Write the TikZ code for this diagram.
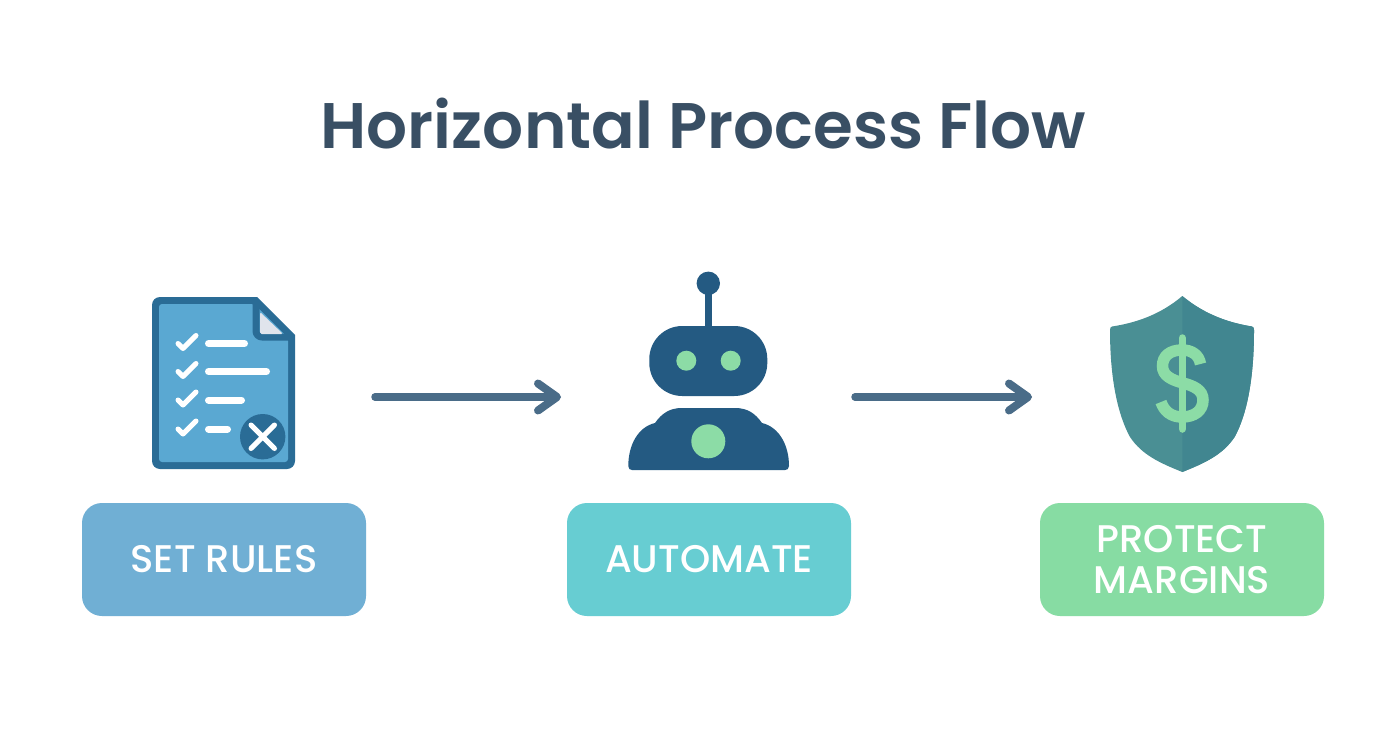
\documentclass[tikz,border=0pt]{standalone}
\usepackage{fontspec}
\setmainfont{Poppins}
\newfontfamily\semi{Poppins SemiBold}
\newfontfamily\medi{Poppins Medium}
\usetikzlibrary{arrows.meta}
\definecolor{ink}{HTML}{394F64}
\definecolor{arrowc}{HTML}{4A6C88}
\definecolor{navy}{HTML}{245A82}
\definecolor{docedge}{HTML}{2A6C96}
\definecolor{docfill}{HTML}{5AA8D2}
\definecolor{foldc}{HTML}{E0E4EC}
\definecolor{mint}{HTML}{8CDCA6}
\definecolor{shieldl}{HTML}{4A8F94}
\definecolor{shieldr}{HTML}{418690}
\definecolor{boxa}{HTML}{70AFD4}
\definecolor{boxb}{HTML}{67CDD2}
\definecolor{boxc}{HTML}{87DCA3}
\tikzset{
  x=1pt,y=-1pt,
  labelbox/.style={draw=none,rounded corners=20pt,minimum width=284pt,minimum height=113pt,inner sep=0pt,
    align=center,text=white,font=\medi\fontsize{38.5}{41}\selectfont},
  flow/.style={draw=arrowc,line width=7.5pt,line cap=round,line join=round,
    -{Straight Barb[length=19pt,width=27pt,line width=8pt,round]}},
  listline/.style={draw=white,line width=7pt,line cap=round},
  tick/.style={draw=white,line width=5pt,line cap=round,line join=round},
}
\begin{document}
\begin{tikzpicture}
\useasboundingbox[fill=white] (0,0) rectangle (1392,752);
\node[text=ink,font=\semi\fontsize{64.4}{80}\selectfont,inner sep=0pt] (title) at (703.5,124) {Horizontal Process Flow};
% document icon
\fill[docedge] (160,297) -- (257,297) -- (295,335) -- (295,461) arc[start angle=0,end angle=-90,radius=8pt]
  -- (160,469) arc[start angle=-90,end angle=-180,radius=8pt] -- (152,305) arc[start angle=180,end angle=90,radius=8pt] -- cycle;
\fill[docfill,rounded corners=3pt] (159,304) -- (254,304) -- (288,338) -- (288,462) -- (159,462) -- cycle;
\draw[draw=docedge,line width=7pt,line join=round,rounded corners=6pt] (256,300.5) -- (256,337) -- (291.5,337);
\fill[foldc,rounded corners=1.5pt] (260,312) -- (283,334) -- (260,334) -- cycle;
\foreach \yy/\xe in {343.5/248,371.5/270,400/245,429/231}{
  \draw[listline] (208.5,\yy) -- (\xe-3.5,\yy);
  \draw[tick] (178,\yy) -- ++(5,5) -- ++(13,-13);
}
\fill[docedge] (262.7,436.7) circle[radius=22.7pt];
\draw[draw=white,line width=5pt,line cap=round] (251,425) -- (274.5,448.5) (274.5,425) -- (251,448.5);
% robot icon
\draw[draw=navy,line width=7.5pt] (708.3,283) -- (708.3,330);
\fill[navy] (708.3,283.3) circle[radius=11.7pt];
\fill[navy,rounded corners=33pt] (649.3,326) rectangle (767.3,396);
\fill[mint] (686.3,360.7) circle[radius=10pt] (730.7,360.7) circle[radius=10pt];
\fill[navy] (628.3,466) .. controls (628.3,445) and (638,427) .. (655,423)
  .. controls (662,413) and (670,408) .. (682,408) -- (735,408)
  .. controls (747,408) and (755,413) .. (762,423)
  .. controls (779,427) and (789,445) .. (789,466)
  .. controls (789,469) and (787,470) .. (785,470) -- (632,470)
  .. controls (630,470) and (628.3,469) .. (628.3,466) -- cycle;
\fill[mint] (708.3,441.3) circle[radius=17pt];
% shield icon
\fill[shieldl] (1182.3,296) .. controls (1160,315) and (1135,323) .. (1112,326.5)
  .. controls (1110.5,327) and (1110,328) .. (1110,330)
  .. controls (1110,380) and (1118,415) .. (1130,437)
  .. controls (1142,455) and (1160,463) .. (1182.3,472)
  .. controls (1204.6,463) and (1222.6,455) .. (1234.6,437)
  .. controls (1246.6,415) and (1254,380) .. (1254,330)
  .. controls (1254,328) and (1253.5,327) .. (1252,326.5)
  .. controls (1230,323) and (1205,315) .. (1182.3,296) -- cycle;
\fill[shieldr] (1182.3,296) .. controls (1205,315) and (1230,323) .. (1252,326.5)
  .. controls (1253.5,327) and (1254,328) .. (1254,330)
  .. controls (1254,380) and (1246.6,415) .. (1234.6,437)
  .. controls (1222.6,455) and (1204.6,463) .. (1182.3,472) -- cycle;
\draw[draw=mint,line width=7.5pt,line cap=round] (1182.3,338) -- (1182.3,429);
\draw[draw=mint,line width=11.5pt]
  (1200.5,364) .. controls (1199,355) and (1192,350) .. (1182,350)
  .. controls (1170,350) and (1162.5,356) .. (1162.5,366)
  .. controls (1162.5,376) and (1172,380) .. (1183,383)
  .. controls (1194,386) and (1203,390) .. (1203,400)
  .. controls (1203,411) and (1194,417) .. (1182,417)
  .. controls (1171,417) and (1164,411) .. (1161,402);
% labels
\node[labelbox,fill=boxa] (rules) at (224,559.5) {SET RULES};
\node[labelbox,fill=boxb] (auto) at (709,559.5) {AUTOMATE};
\node[labelbox,fill=boxc] (margins) at (1182,559.5) {PROTECT\\MARGINS};
% connectors
\coordinate (a1s) at (375,397); \coordinate (a1e) at (561,397);
\coordinate (a2s) at (855,397); \coordinate (a2e) at (1032,397);
\draw[flow] (a1s) -- (a1e);
\draw[flow] (a2s) -- (a2e);
\end{tikzpicture}
\end{document}
